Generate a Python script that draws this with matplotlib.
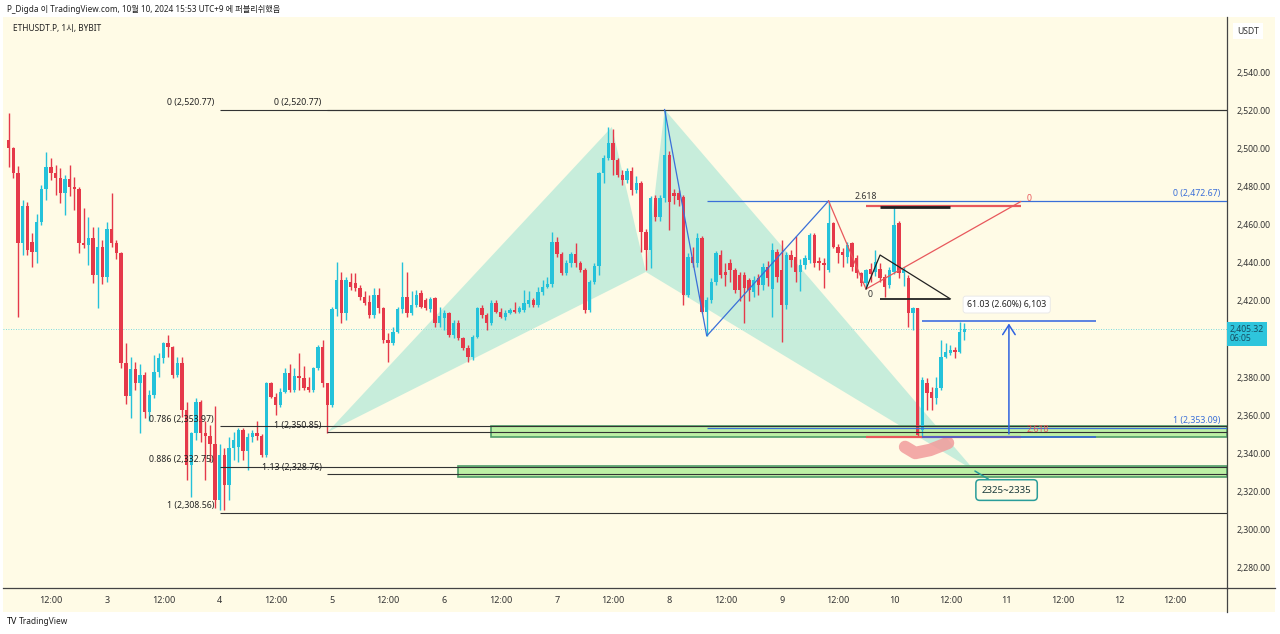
import matplotlib
matplotlib.use("Agg")
import matplotlib.pyplot as plt
import matplotlib.dates as mdates
from matplotlib.patches import Rectangle, Polygon
from matplotlib.lines import Line2D
import pandas as pd
import numpy as np

plt.rcParams['font.family'] = ['Noto Sans', 'Noto Sans CJK KR', 'DejaVu Sans']

# ---------------- data ----------------
start_time = '2024-10-02 03:00'
opens = [2504.8,2500.4,2487.2,2450.4,2470.0,2451.0,2446.0,2461.8,2478.8,2490.7,2487.6,2484.6,2476.7,2484.0,2479.8,2478.8,2450.7,2449.5,2453.0,2433.7,
         2448.6,2432.5,2458.0,2450.4,2445.0,2387.2,2370.0,2384.0,2376.7,2381.0,2361.8,2370.6,2382.8,2389.8,2397.8,2396.0,2381.0,2387.2,2362.7,2333.7,
         2350.4,2367.0,2350.4,2349.0,2345.0,2315.3,2339.0,2323.0,2342.5,2343.4,2352.2,2340.8,2348.6,2350.4,2349.0,2339.0,2376.7,2369.7,2365.3,2372.3,
         2382.0,2373.0,2380.5,2379.4,2375.0,2373.0,2384.6,2396.0,2376.7,2365.3,2416.0,2431.0,2413.5,2430.0,2429.7,2426.7,2422.3,2419.7,2412.7,2423.2,
         2416.2,2399.5,2397.8,2403.9,2415.6,2422.3,2413.5,2417.9,2424.0,2420.6,2415.6,2421.4,2408.3,2411.0,2413.5,2402.1,2408.6,2400.4,2395.1,2390.7,
         2401.3,2416.2,2412.7,2408.6,2418.8,2414.4,2411.8,2413.5,2415.3,2414.4,2415.3,2418.5,2420.6,2417.9,2424.6,2427.2,2429.0,2451.3,2444.8,2434.6,
         2439.9,2444.8,2439.9,2436.3,2415.3,2430.2,2438.6,2487.2,2495.1,2503.3,2494.2,2486.3,2483.7,2488.6,2478.4,2482.0,2456.5,2446.9,2474.1,2464.4,
         2474.1,2496.9,2477.0,2476.7,2474.9,2423.2,2443.4,2439.9,2453.0,2414.4,2420.6,2430.2,2444.2,2435.5,2439.9,2436.3,2433.7,2433.7,2431.0,2424.9,
         2432.0,2428.4,2438.1,2426.2,2446.0,2436.3,2417.9,2444.2,2443.4,2435.5,2439.0,2441.6,2454.8,2441.0,2439.9,2436.3,2460.9,2448.6,2446.0,2443.4,
         2450.4,2442.5,2434.6,2429.3,2437.0,2435.5,2437.0,2432.8,2428.4,2435.5,2460.9,2434.6,2431.9,2413.5,2416.2,2352.0,2376.7,2372.0,2368.8,2374.0,
         2390.7,2392.5,2394.3,2393.4,2403.9]
highs = [2518.8,2501.0,2491.0,2473.0,2472.0,2456.0,2466.0,2481.0,2498.6,2495.0,2491.6,2490.0,2486.3,2491.6,2485.5,2479.8,2468.8,2464.4,2459.0,2459.0,
         2452.0,2461.5,2477.0,2452.0,2446.0,2397.8,2390.7,2388.0,2387.0,2382.8,2373.0,2391.6,2392.5,2398.6,2402.0,2396.5,2390.7,2390.7,2367.0,2351.0,
         2368.8,2368.0,2357.0,2354.8,2365.0,2345.0,2342.5,2348.6,2351.0,2353.0,2353.0,2350.4,2352.0,2356.6,2350.0,2377.6,2377.6,2371.4,2374.0,2384.6,
         2387.0,2384.6,2392.5,2386.0,2380.0,2385.5,2397.0,2399.5,2376.7,2417.0,2440.7,2435.5,2432.8,2434.6,2434.6,2428.4,2425.0,2423.2,2426.7,2426.7,
         2417.0,2403.0,2406.5,2417.0,2440.7,2435.5,2425.0,2425.8,2425.8,2421.4,2422.3,2422.3,2417.0,2415.3,2414.4,2410.0,2410.0,2401.3,2396.9,2402.1,
         2417.0,2417.9,2413.5,2420.6,2420.6,2416.2,2415.3,2416.2,2419.7,2417.5,2425.8,2425.0,2421.5,2427.6,2431.0,2432.8,2456.5,2453.9,2446.0,2441.5,
         2446.0,2450.4,2441.0,2437.2,2431.0,2440.0,2488.0,2496.9,2511.8,2510.4,2495.1,2489.0,2490.0,2490.7,2486.0,2483.0,2458.0,2475.0,2476.0,2476.0,
         2520.5,2499.0,2479.0,2478.4,2476.0,2445.1,2448.6,2455.6,2454.0,2422.0,2432.0,2446.5,2447.0,2440.0,2442.0,2437.5,2435.0,2435.0,2432.0,2433.0,
         2434.0,2440.0,2441.0,2450.4,2447.5,2452.0,2446.0,2447.0,2454.0,2442.0,2444.0,2456.0,2456.0,2443.4,2442.5,2472.3,2461.5,2450.0,2448.0,2451.3,
         2451.0,2444.0,2435.5,2437.0,2440.0,2447.0,2440.0,2434.0,2438.0,2469.6,2462.0,2438.0,2433.7,2417.0,2416.2,2380.0,2379.3,2375.0,2380.0,2399.5,
         2397.8,2396.9,2396.0,2409.1,2408.3]
lows = [2490.7,2484.6,2411.8,2444.0,2444.0,2438.0,2440.0,2460.0,2473.0,2483.7,2475.8,2471.4,2465.3,2475.0,2468.0,2445.0,2447.7,2439.0,2429.3,2416.2,
        2429.0,2430.0,2448.6,2442.0,2385.0,2366.0,2358.3,2373.0,2350.4,2358.3,2357.0,2368.8,2380.0,2387.2,2390.7,2379.3,2380.2,2359.0,2325.8,2317.0,
        2346.9,2346.0,2325.8,2335.5,2311.0,2310.0,2310.0,2315.3,2336.4,2335.5,2336.4,2331.0,2346.0,2347.0,2338.0,2338.0,2368.8,2360.0,2364.4,2371.4,
        2372.3,2372.3,2373.0,2373.0,2372.0,2372.3,2383.7,2375.0,2350.4,2364.4,2412.0,2408.3,2410.0,2425.8,2425.0,2420.6,2418.0,2410.9,2410.9,2413.5,
        2397.8,2388.0,2397.0,2403.0,2413.5,2411.8,2412.7,2417.0,2416.2,2415.3,2414.4,2406.5,2406.5,2404.8,2401.3,2400.4,2399.5,2394.3,2388.0,2389.0,
        2400.4,2410.9,2404.8,2407.4,2413.5,2410.9,2410.0,2413.0,2413.5,2413.5,2414.4,2417.0,2417.0,2417.0,2423.2,2426.7,2427.6,2443.4,2433.7,2433.7,
        2438.0,2438.1,2435.5,2413.5,2414.4,2429.0,2433.7,2482.0,2494.3,2486.3,2485.5,2481.0,2482.0,2475.8,2477.0,2446.0,2436.3,2437.2,2462.0,2462.0,
        2472.3,2457.4,2471.0,2470.0,2417.9,2422.3,2438.0,2438.1,2413.5,2401.8,2419.0,2428.4,2432.0,2428.0,2430.0,2424.1,2420.0,2408.3,2420.0,2422.0,
        2423.0,2426.0,2428.0,2411.8,2430.0,2398.6,2416.0,2438.0,2430.0,2425.0,2437.0,2440.0,2438.1,2436.3,2426.7,2435.5,2447.7,2440.0,2438.0,2440.0,
        2436.0,2432.0,2428.0,2426.7,2430.0,2433.0,2430.0,2422.3,2427.0,2434.0,2432.0,2428.0,2406.5,2404.8,2348.6,2348.6,2362.7,2362.7,2366.0,2373.2,
        2389.8,2391.6,2390.0,2392.5,2399.5]
closes = [2500.4,2487.2,2450.4,2470.0,2447.0,2446.0,2461.8,2478.8,2490.7,2487.6,2484.6,2476.7,2484.0,2479.8,2478.8,2450.7,2449.5,2453.0,2433.7,2448.6,
          2432.5,2458.0,2450.4,2445.0,2387.2,2370.0,2384.0,2376.7,2381.0,2361.8,2370.6,2382.8,2389.8,2397.8,2396.0,2381.0,2387.2,2362.7,2333.7,2350.4,
          2367.0,2350.4,2349.0,2345.0,2315.3,2339.0,2323.0,2342.5,2346.9,2352.2,2340.8,2348.6,2350.4,2349.0,2339.0,2376.7,2369.7,2365.3,2372.3,2382.0,
          2373.0,2380.5,2379.4,2374.0,2373.0,2384.6,2396.0,2376.7,2365.3,2416.0,2431.0,2413.5,2431.0,2427.6,2426.7,2422.3,2418.8,2412.7,2423.2,2416.2,
          2399.5,2397.8,2403.9,2415.6,2422.3,2413.5,2417.9,2423.2,2417.0,2416.2,2420.9,2408.3,2412.1,2413.5,2402.1,2408.6,2400.4,2395.1,2390.7,2401.3,
          2416.2,2412.7,2408.6,2418.8,2414.4,2411.8,2413.5,2415.3,2414.4,2416.2,2418.8,2420.6,2417.9,2424.6,2427.2,2429.0,2451.3,2444.8,2434.6,2439.9,
          2444.8,2439.9,2436.3,2415.3,2430.2,2438.6,2487.2,2495.1,2503.3,2494.2,2486.3,2483.7,2488.6,2478.4,2482.0,2456.5,2446.9,2474.1,2464.4,2474.1,
          2496.9,2472.3,2475.0,2473.2,2423.2,2443.4,2439.9,2453.0,2414.4,2420.6,2430.2,2445.1,2433.7,2433.7,2436.3,2425.8,2425.8,2426.7,2425.8,2431.1,
          2428.4,2438.1,2432.0,2446.9,2432.8,2417.9,2444.2,2441.6,2435.5,2439.0,2442.5,2454.8,2439.9,2439.9,2439.0,2460.9,2448.6,2445.1,2444.2,2449.5,
          2438.1,2434.6,2429.3,2436.3,2434.0,2440.7,2432.0,2427.6,2436.3,2460.0,2434.6,2436.3,2413.5,2416.2,2349.5,2378.4,2371.4,2368.8,2374.0,2390.7,
          2393.4,2394.3,2393.4,2403.9,2405.3]

y_ticks = [2280, 2300, 2320, 2340, 2360, 2380, 2420, 2440, 2460, 2480, 2500, 2520, 2540]
x_tick_times = pd.date_range('2024-10-02 12:00', '2024-10-12 12:00', freq='12h')
x_tick_labels = ['12:00' if t.hour == 12 else str(t.day) for t in x_tick_times]

last_price = 2405.32
countdown = '06:05'

# fibonacci tools (start time, level names, prices)
fib1_start = '2024-10-04 00:00'
fib1_levels = ['0', '0.786', '0.886', '1']
fib1_prices = [2520.77, 2353.97, 2332.75, 2308.56]
fib2_start = '2024-10-04 23:00'
fib2_levels = ['0', '1', '1.13']
fib2_prices = [2520.77, 2350.85, 2328.76]
fib3_start = '2024-10-08 08:00'
fib3_levels = ['0', '1']
fib3_prices = [2472.67, 2353.09]

# harmonic pattern X A B C D
harm_times = ['2024-10-04 23:00', '2024-10-07 11:45', '2024-10-07 19:00', '2024-10-07 23:00', '2024-10-10 17:15']
harm_prices = [2350.85, 2511.6, 2435.3, 2520.77, 2330.5]

# blue ABCD legs
abcd_times = ['2024-10-07 23:00', '2024-10-08 08:00', '2024-10-09 10:00']
abcd_prices = [2520.77, 2401.6, 2472.67]
# red legs
red_times = ['2024-10-09 10:00', '2024-10-09 18:00', '2024-10-11 03:00']
red_prices = [2472.67, 2426.3, 2472.3]
red_h_prices = [2470.0, 2348.6]
red_h_labels = ['0', '2.618']
# black triangle
tri_times = ['2024-10-09 18:00', '2024-10-09 21:00', '2024-10-10 12:00']
tri_prices = [2426.3, 2444.2, 2421.1]
tri_flat_price = 2421.1
top_bar_price = 2469.5

# pink brush stroke
brush_times = ['2024-10-10 02:20', '2024-10-10 04:30', '2024-10-10 07:40', '2024-10-10 11:30']
brush_prices = [2343.2, 2340.0, 2341.6, 2345.3]

# measurement
measure_start, measure_end = '2024-10-10 06:00', '2024-10-11 19:00'
measure_arrow_time = '2024-10-11 00:30'
measure_low, measure_high = 2348.60, 2409.63
measure_label = '61.03 (2.60%) 6,103'

# zones
zone_starts = ['2024-10-06 10:00', '2024-10-06 03:00']
zone_lows = [2348.4, 2327.4]
zone_highs = [2354.2, 2333.2]
zone_label = '2325~2335'

# ---------------- figure ----------------
W, H = 1280, 634
fig = plt.figure(figsize=(W / 100, H / 100), dpi=100)
fig.patch.set_facecolor('white')
BG = '#fffbe6'

def fx(px):
    return px / W

def fy(py):
    return 1 - py / H

bgrect = Rectangle((fx(3), fy(612)), fx(1275) - fx(3), fy(17) - fy(612),
                   transform=fig.transFigure, facecolor=BG, edgecolor='none', zorder=-5)
fig.patches.append(bgrect)

ax = fig.add_axes([fx(3), fy(588), fx(1227) - fx(3), fy(17) - fy(588)])
ax.set_zorder(1)
ax.set_facecolor(BG)

to_num = lambda t: mdates.date2num(pd.Timestamp(t))
times = pd.date_range(start_time, periods=len(opens), freq='h')
xs = mdates.date2num(times)
o = np.array(opens); c = np.array(closes); hi = np.array(highs); lo = np.array(lows)
up = c >= o
UP, DN = '#24c2da', '#e5394a'
cols = np.where(up, UP, DN)
ax.vlines(xs, lo, hi, colors=cols, linewidth=1.0, zorder=3)
body_h = np.maximum(np.abs(c - o), 0.7)
ax.bar(xs, body_h, bottom=np.minimum(o, c), width=0.72 / 24, color=cols, edgecolor=cols, linewidth=0, zorder=4)

# harmonic fill
hx = [to_num(t) for t in harm_times]
ax.add_patch(Polygon(list(zip(hx[0:3], harm_prices[0:3])), closed=True, facecolor='#a2e5d4', edgecolor='none', alpha=0.6, zorder=2))
ax.add_patch(Polygon(list(zip(hx[2:5], harm_prices[2:5])), closed=True, facecolor='#a2e5d4', edgecolor='none', alpha=0.6, zorder=2))

x_left = to_num('2024-10-02 01:47')
x_right = to_num('2024-10-12 23:03')

# zones
for zs, zl, zh in zip(zone_starts, zone_lows, zone_highs):
    ax.add_patch(Rectangle((to_num(zs), zl), x_right - to_num(zs), zh - zl,
                           facecolor='#bdf0a5', edgecolor='#4f9d69', linewidth=1.2, zorder=2.5))

# fib tools
for st, lv, pr in ((fib1_start, fib1_levels, fib1_prices), (fib2_start, fib2_levels, fib2_prices)):
    sx = to_num(st)
    for name, p in zip(lv, pr):
        ax.hlines(p, sx, x_right, colors='#333333', linewidth=0.8, zorder=5)
        ax.annotate(f'{name} ({p:,.2f})', (sx, p), xytext=(-4, 2), textcoords='offset points',
                    ha='right', va='bottom', fontsize=6.3, color='#222222', zorder=6)
sx = to_num(fib3_start)
for name, p in zip(fib3_levels, fib3_prices):
    ax.hlines(p, sx, x_right, colors='#3a6fd8', linewidth=0.9, zorder=5)
    ax.annotate(f'{name} ({p:,.2f})', (x_right, p), xytext=(-5, 2), textcoords='offset points',
                ha='right', va='bottom', fontsize=6.3, color='#3a6fd8', zorder=6)

# blue ABCD legs
ax.plot([to_num(t) for t in abcd_times], abcd_prices, color='#3a6fd8', linewidth=0.9, zorder=5)
# red legs
rx = [to_num(t) for t in red_times]
ax.plot(rx, red_prices, color='#e8585c', linewidth=0.9, zorder=5)
for p, lab in zip(red_h_prices, red_h_labels):
    ax.hlines(p, rx[1], rx[2], colors='#e8585c', linewidth=1.6, zorder=5)
    ax.annotate(lab, (rx[2], p), xytext=(4, 2), textcoords='offset points', ha='left', va='bottom',
                fontsize=6.3, color='#e8585c', zorder=6)
ax.annotate('2.618', (rx[1], top_bar_price + 1.5), xytext=(-8, 2), textcoords='offset points',
            ha='left', va='bottom', fontsize=6.3, color='#333333', zorder=6)
ax.annotate('0', (rx[1], red_prices[1]), xytext=(1, -1), textcoords='offset points', ha='left', va='top',
            fontsize=6.3, color='#333333', zorder=6)

# black triangle
tx = [to_num(t) for t in tri_times]
ax.plot(tx, tri_prices, color='#222222', linewidth=0.9, zorder=5)
ax.hlines(tri_flat_price, tx[1], tx[2], colors='#222222', linewidth=1.3, zorder=5)
ax.hlines(top_bar_price, tx[1], tx[2], colors='#222222', linewidth=2.0, zorder=5)

# brush stroke
ax.plot([to_num(t) for t in brush_times], brush_prices, color='#f29c9c', linewidth=9, alpha=0.85,
        solid_capstyle='round', solid_joinstyle='round', zorder=4.5)

# measurement tool
ms, me, ma = to_num(measure_start), to_num(measure_end), to_num(measure_arrow_time)
ax.hlines([measure_low, measure_high], ms, me, colors='#2f62e0', linewidth=1.1, zorder=6)
ax.annotate('', xy=(ma, measure_high), xytext=(ma, measure_low),
            arrowprops=dict(arrowstyle='->,head_length=0.7,head_width=0.45', color='#2f62e0', lw=1.1), zorder=6)
ax.text(ma - 0.02, measure_high + 8.5, measure_label, ha='center', va='center', fontsize=6.3, color='#222222',
        bbox=dict(boxstyle='round,pad=0.45,rounding_size=0.3', facecolor='white', edgecolor='#e6e6e6', linewidth=0.6), zorder=7)

# last price line
ax.axhline(last_price, color='#26c6da', linewidth=0.6, linestyle=(0, (1, 2)), alpha=0.8, zorder=1.5)

# zone label with callout
dtime = hx[4]
ax.annotate(zone_label, xy=(dtime, harm_prices[4]), xytext=(to_num('2024-10-11 00:00'), 2320.5),
            ha='center', va='center', fontsize=7, fontweight='bold', color='#1a3a3a',
            bbox=dict(boxstyle='round,pad=0.6,rounding_size=0.4', facecolor=BG, edgecolor='#2a9d9a', linewidth=1.1),
            arrowprops=dict(arrowstyle='-', color='#2a9d9a', lw=1.1, shrinkA=0, shrinkB=0,
                            connectionstyle='arc3,rad=0'), zorder=7)

# axes
ax.set_xlim(x_left, x_right)
ax.set_ylim(2268.95, 2569.47)
ax.yaxis.tick_right()
ax.set_yticks(y_ticks)
ax.set_yticklabels([f'{v:,.2f}' for v in y_ticks])
ax.set_xticks(mdates.date2num(x_tick_times))
ax.set_xticklabels(x_tick_labels)
ax.tick_params(axis='y', length=0, pad=7, labelsize=6.2, labelcolor='#333333')
ax.tick_params(axis='x', length=0, pad=6, labelsize=6.5, labelcolor='#333333')
for s in ('top', 'left'):
    ax.spines[s].set_visible(False)
ax.spines['bottom'].set_color('#444444'); ax.spines['bottom'].set_linewidth(0.9)
ax.spines['right'].set_color('#444444'); ax.spines['right'].set_linewidth(0.9)

# extended axis separators
fig.lines.append(Line2D([fx(1227), fx(1227)], [fy(588), fy(612)], transform=fig.transFigure, color='#444444', lw=0.9, zorder=3))
fig.lines.append(Line2D([fx(1227), fx(1275)], [fy(588), fy(588)], transform=fig.transFigure, color='#444444', lw=0.9, zorder=3))

# price tag
fig.text(fx(1230), fy(334), f'{last_price:,.2f}\n{countdown}', fontsize=6.2, color='#164e63', ha='left', va='center',
         linespacing=1.0, zorder=5,
         bbox=dict(boxstyle='square,pad=0.3', facecolor='#2ec5dc', edgecolor='none'))

# USDT box
fig.text(fx(1237), fy(31), 'USDT', fontsize=6.2, color='#333333', ha='left', va='center', zorder=5,
         bbox=dict(boxstyle='square,pad=0.45', facecolor='white', edgecolor='none'))

# header texts
fig.text(fx(7), fy(10), 'P_Digda 이 TradingView.com, 10월 10, 2024 15:53 UTC+9 에 퍼블리쉬했음',
         fontsize=5.9, color='#222222', ha='left', va='center', zorder=5)
fig.text(fx(13), fy(29), 'ETHUSDT.P, 1시, BYBIT', fontsize=6.0, color='#222222', ha='left', va='center', zorder=5)
fig.text(fx(7), fy(621), 'TV', fontsize=6.5, fontweight='bold', color='#111111', ha='left', va='center', zorder=5)
fig.text(fx(19), fy(621), 'TradingView', fontsize=6.0, color='#222222', ha='left', va='center', zorder=5)

fig.savefig('out.png', dpi=100, facecolor=fig.get_facecolor())
